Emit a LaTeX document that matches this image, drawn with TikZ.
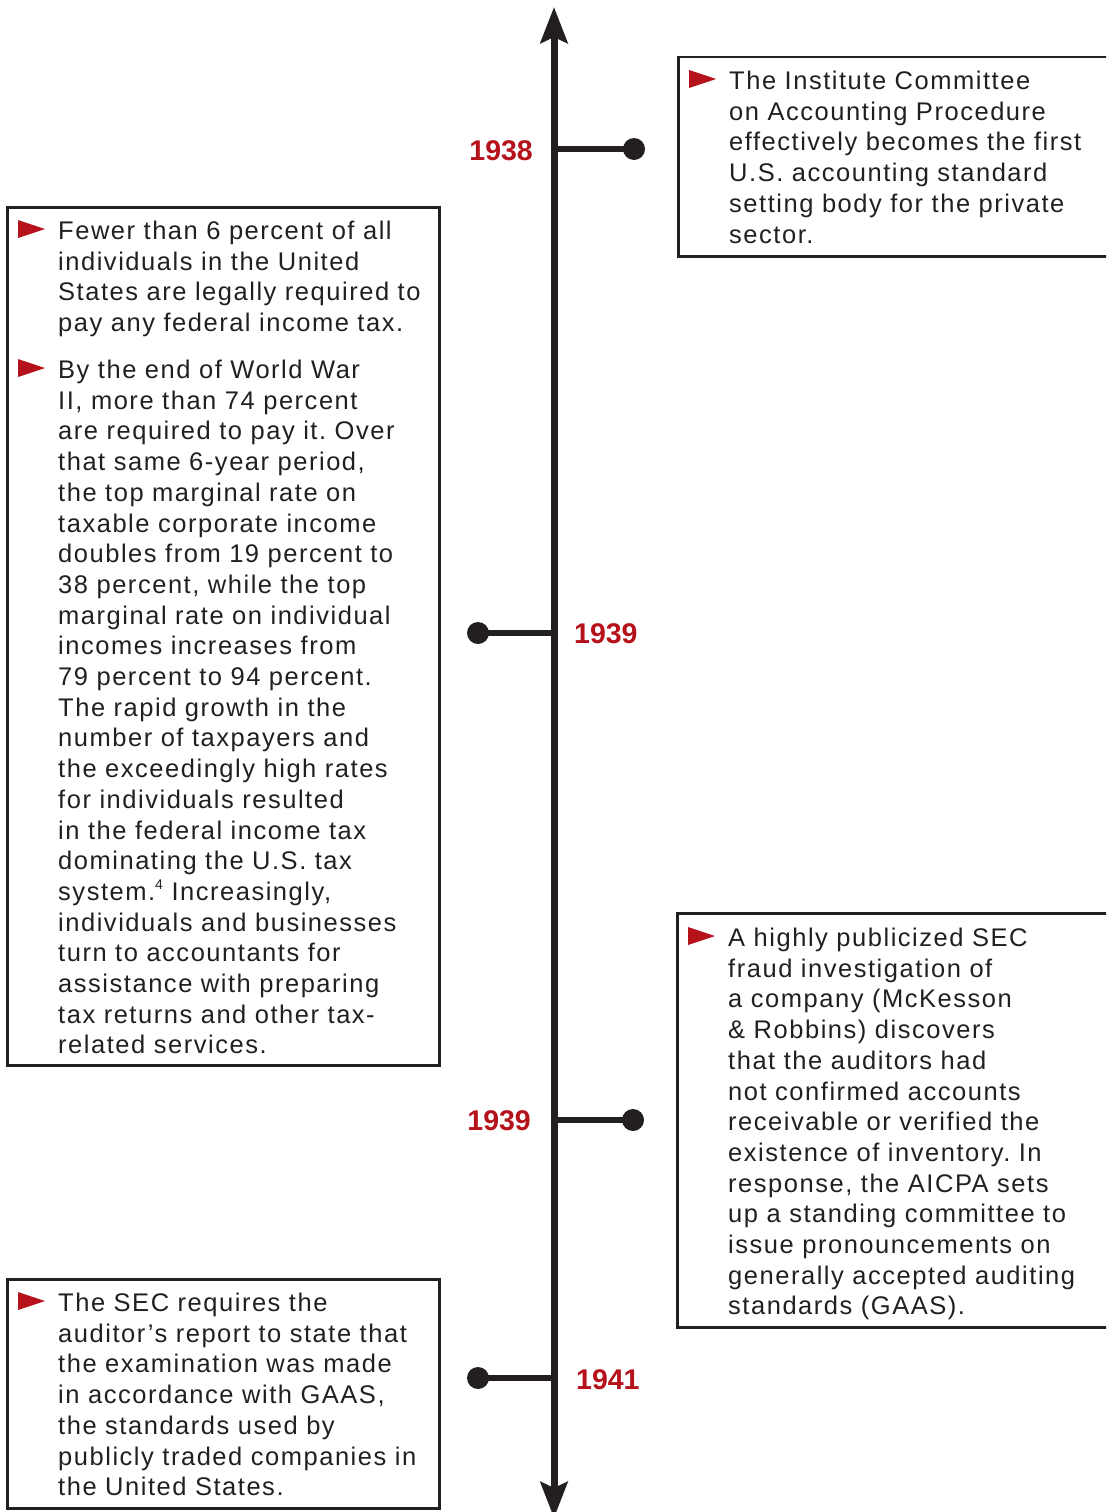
\documentclass[tikz,border=0pt]{standalone}
\usepackage{fontspec}
\usetikzlibrary{arrows.meta}
\newfontfamily\bodyfont{Liberation Sans}[LetterSpace=6.0]
\newfontfamily\yearfont{Liberation Sans}

\definecolor{accent}{RGB}{181,18,27}
\definecolor{ink}{RGB}{35,31,32}

\tikzset{
  frame/.style={draw=ink, line width=2.5pt, inner sep=0pt, anchor=north west},
  body/.style={font=\bodyfont\fontsize{25.5}{30.7}\selectfont\frenchspacing, text=ink,
               inner sep=0pt, anchor=base west, text width=440pt, align=left},
  year/.style={font=\yearfont\bfseries\fontsize{28.5}{30}\selectfont,
               text=accent, inner sep=0pt},
  tick/.style={draw=ink, line width=5.5pt},
  dot/.style={circle, fill=ink, minimum size=22pt, inner sep=0pt},
  axis/.style={draw=ink, line width=7pt,
               {Stealth[length=36pt, width=27pt, inset=6pt]}-{Stealth[length=36pt, width=27pt, inset=6pt]}},
  pics/bullet/.style={code={\fill[accent] (0,-9) -- (27,0) -- (0,9) -- cycle;}}
}

\begin{document}
\begin{tikzpicture}[x=1pt, y=-1pt]
\path[use as bounding box] (0,0) rectangle (1106,1512);
\clip (0,0) rectangle (1106,1512);

% time axis
\coordinate (top) at (554,7);
\coordinate (bottom) at (554,1518);
\draw[axis] (bottom) -- (top);

% 1938
\coordinate (a1) at (554,149);
\node[dot] (d1) at (634,149) {};
\draw[tick] (a1) -- (d1.center);
\node[year, anchor=base east] (y1) at (533,160) {1938};

% 1939 (left)
\coordinate (a2) at (554,633);
\node[dot] (d2) at (478,633) {};
\draw[tick] (a2) -- (d2.center);
\node[year, anchor=base west] (y2) at (574,643) {1939};

% 1939 (right)
\coordinate (a3) at (554,1120);
\node[dot] (d3) at (633,1120) {};
\draw[tick] (a3) -- (d3.center);
\node[year, anchor=base east] (y3) at (531,1130) {1939};

% 1941
\coordinate (a4) at (554,1378);
\node[dot] (d4) at (478,1378) {};
\draw[tick] (a4) -- (d4.center);
\node[year, anchor=base west] (y4) at (576,1389) {1941};

% box: Committee on Accounting Procedure
\node[frame, minimum width=443pt, minimum height=199pt] (boxA) at (677,56) {};
\pic at (689,79) {bullet};
\node[body] (tA) at (729,89.5) {The Institute Committee\\
on Accounting Procedure\\
effectively becomes the first\\
U.S. accounting standard\\
setting body for the private\\
sector.};

% box: federal income tax
\node[frame, minimum width=432pt, minimum height=858pt] (boxB) at (6,206) {};
\pic at (18,229) {bullet};
\node[body] (tB1) at (58,239.5) {Fewer than 6 percent of all\\
individuals in the United\\
States are legally required to\\
pay any federal income tax.};
\pic at (18,368) {bullet};
\node[body] (tB2) at (58,378.5) {By the end of World War\\
II, more than 74 percent\\
are required to pay it. Over\\
that same 6-year period,\\
the top marginal rate on\\
taxable corporate income\\
doubles from 19 percent to\\
38 percent, while the top\\
marginal rate on individual\\
incomes increases from\\
79 percent to 94 percent.\\
The rapid growth in the\\
number of taxpayers and\\
the exceedingly high rates\\
for individuals resulted\\
in the federal income tax\\
dominating the U.S. tax\\
system.\raisebox{0.42em}{\fontsize{14}{14}\selectfont 4} Increasingly,\\
individuals and businesses\\
turn to accountants for\\
assistance with preparing\\
tax returns and other tax-\\
related services.};

% box: McKesson & Robbins
\node[frame, minimum width=444pt, minimum height=414pt] (boxC) at (676,912) {};
\pic at (688,936) {bullet};
\node[body] (tC) at (728,946.5) {A highly publicized SEC\\
fraud investigation of\\
a company (McKesson\\
\& Robbins) discovers\\
that the auditors had\\
not confirmed accounts\\
receivable or verified the\\
existence of inventory. In\\
response, the AICPA sets\\
up a standing committee to\\
issue pronouncements on\\
generally accepted auditing\\
standards (GAAS).};

% box: auditor's report
\node[frame, minimum width=432pt, minimum height=229pt] (boxD) at (6,1278) {};
\pic at (18,1301) {bullet};
\node[body] (tD) at (58,1311.5) {The SEC requires the\\
auditor’s report to state that\\
the examination was made\\
in accordance with GAAS,\\
the standards used by\\
publicly traded companies in\\
the United States.};
\end{tikzpicture}
\end{document}
